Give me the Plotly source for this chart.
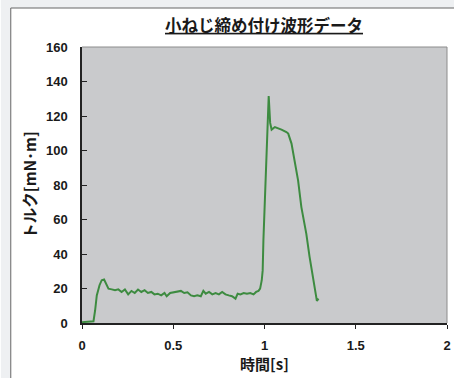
import plotly.graph_objects as go

# --- data ---
time_s = [0.000, 0.063, 0.072, 0.081, 0.096, 0.108, 0.121, 0.132, 0.145, 0.163,
          0.181, 0.199, 0.217, 0.235, 0.253, 0.271, 0.289, 0.307, 0.325, 0.343,
          0.361, 0.380, 0.397, 0.415, 0.434, 0.452, 0.464, 0.483, 0.506, 0.524,
          0.542, 0.560, 0.578, 0.597, 0.614, 0.632, 0.651, 0.665, 0.678, 0.696,
          0.714, 0.732, 0.750, 0.768, 0.786, 0.804, 0.822, 0.841, 0.853, 0.868,
          0.886, 0.904, 0.922, 0.940, 0.954, 0.967, 0.976, 0.985, 0.990, 0.994,
          1.007, 1.017, 1.023, 1.031, 1.039, 1.057, 1.075, 1.093, 1.120, 1.130,
          1.148, 1.166, 1.184, 1.202, 1.229, 1.247, 1.270, 1.287, 1.296]
torque = [0.5, 1.0, 7.4, 16.0, 21.9, 24.8, 25.2, 22.8, 19.9, 19.5,
          19.0, 19.5, 18.0, 19.4, 16.6, 18.6, 17.4, 19.4, 18.0, 19.0,
          17.4, 18.0, 16.6, 17.0, 16.0, 17.4, 15.5, 17.4, 17.8, 18.0,
          18.6, 17.4, 17.8, 16.0, 15.5, 16.0, 15.5, 18.6, 17.0, 18.0,
          16.6, 17.4, 16.6, 18.0, 16.6, 16.0, 15.5, 14.1, 17.0, 16.6,
          17.4, 17.0, 17.4, 16.6, 18.0, 18.6, 19.9, 24.8, 30.5, 48.0,
          82.7, 115.6, 131.6, 116.0, 112.1, 113.6, 113.0, 112.1, 110.7, 109.8,
          104.0, 94.3, 82.7, 67.2, 51.8, 38.3, 24.8, 12.8, 14.1]

x_ticks = [0, 0.5, 1, 1.5, 2]
x_tick_labels = ["0", "0.5", "1", "1.5", "2"]
y_ticks = [0, 20, 40, 60, 80, 100, 120, 140, 160]

title_text = "小ねじ締め付け波形データ"
x_title = "時間[s]"
y_title = "トルク[mN･m]"

W, H = 454, 378
ML, MR, MT, MB = 82, 3, 47, 55
PW, PH = W - ML - MR, H - MT - MB

def px_x(p):
    return (p - ML) / PW

def px_y(p):
    return (H - MB - p) / PH

fig = go.Figure()
fig.add_trace(go.Scatter(
    x=time_s, y=torque, mode="lines",
    line=dict(color="#3d8b40", width=2),
    showlegend=False, hoverinfo="skip",
))

tick_font = dict(family="Liberation Sans, Arial, sans-serif", size=13,
                 color="#1a1a1a", weight="bold")
cjk = "Noto Sans CJK JP, sans-serif"

fig.update_layout(
    width=W, height=H,
    margin=dict(l=ML, r=MR, t=MT, b=MB, pad=0),
    paper_bgcolor="white",
    plot_bgcolor="#c9cacc",
    title=dict(
        text="<u>" + title_text + "</u>",
        font=dict(family=cjk, size=16.5, color="#1a1a1a", weight="bold"),
        x=264 / W, xanchor="center", xref="container",
        y=1 - 26 / H, yanchor="middle", yref="container",
    ),
    xaxis=dict(
        range=[0, 2], tickvals=x_ticks, ticktext=x_tick_labels,
        showgrid=False, zeroline=False,
        showline=True, linecolor="#222222", linewidth=1.5,
        ticks="outside", ticklen=4, tickcolor="#222222",
        tickfont=tick_font, ticklabelstandoff=6, ticklabeloverflow="allow",
        title=dict(text=x_title,
                   font=dict(family=cjk, size=15, color="#1a1a1a", weight="bold"),
                   standoff=5),
    ),
    yaxis=dict(
        range=[0, 160], tickvals=y_ticks,
        showgrid=False, zeroline=False,
        showline=True, linecolor="#222222", linewidth=1.5,
        ticks="inside", ticklen=5, tickcolor="#222222",
        tickfont=tick_font, ticklabelstandoff=10,
        title=dict(text=y_title,
                   font=dict(family=cjk, size=15.5, color="#1a1a1a", weight="bold"),
                   standoff=6),
    ),
)

# outer page band and chart frame
bg_outer = "#eef0f2"
shapes = [
    dict(type="rect", xref="paper", yref="paper", x0=px_x(0), x1=px_x(10),
         y0=px_y(H + 5), y1=px_y(-5), fillcolor=bg_outer, line=dict(width=0), layer="below"),
    dict(type="rect", xref="paper", yref="paper", x0=px_x(0), x1=px_x(W + 5),
         y0=px_y(8), y1=px_y(-5), fillcolor=bg_outer, line=dict(width=0), layer="below"),
    dict(type="line", xref="paper", yref="paper", x0=px_x(10), x1=px_x(10),
         y0=px_y(8), y1=px_y(H + 5), line=dict(color="#666666", width=1)),
    dict(type="line", xref="paper", yref="paper", x0=px_x(10), x1=px_x(W + 5),
         y0=px_y(8), y1=px_y(8), line=dict(color="#666666", width=1)),
    # plot area top/right border
    dict(type="line", xref="paper", yref="paper", x0=0, x1=1, y0=1, y1=1,
         line=dict(color="#8c8c8c", width=1)),
    dict(type="line", xref="paper", yref="paper", x0=1, x1=1, y0=0, y1=1,
         line=dict(color="#8c8c8c", width=1)),
]
fig.update_layout(shapes=shapes)

fig.write_html("out.html")
